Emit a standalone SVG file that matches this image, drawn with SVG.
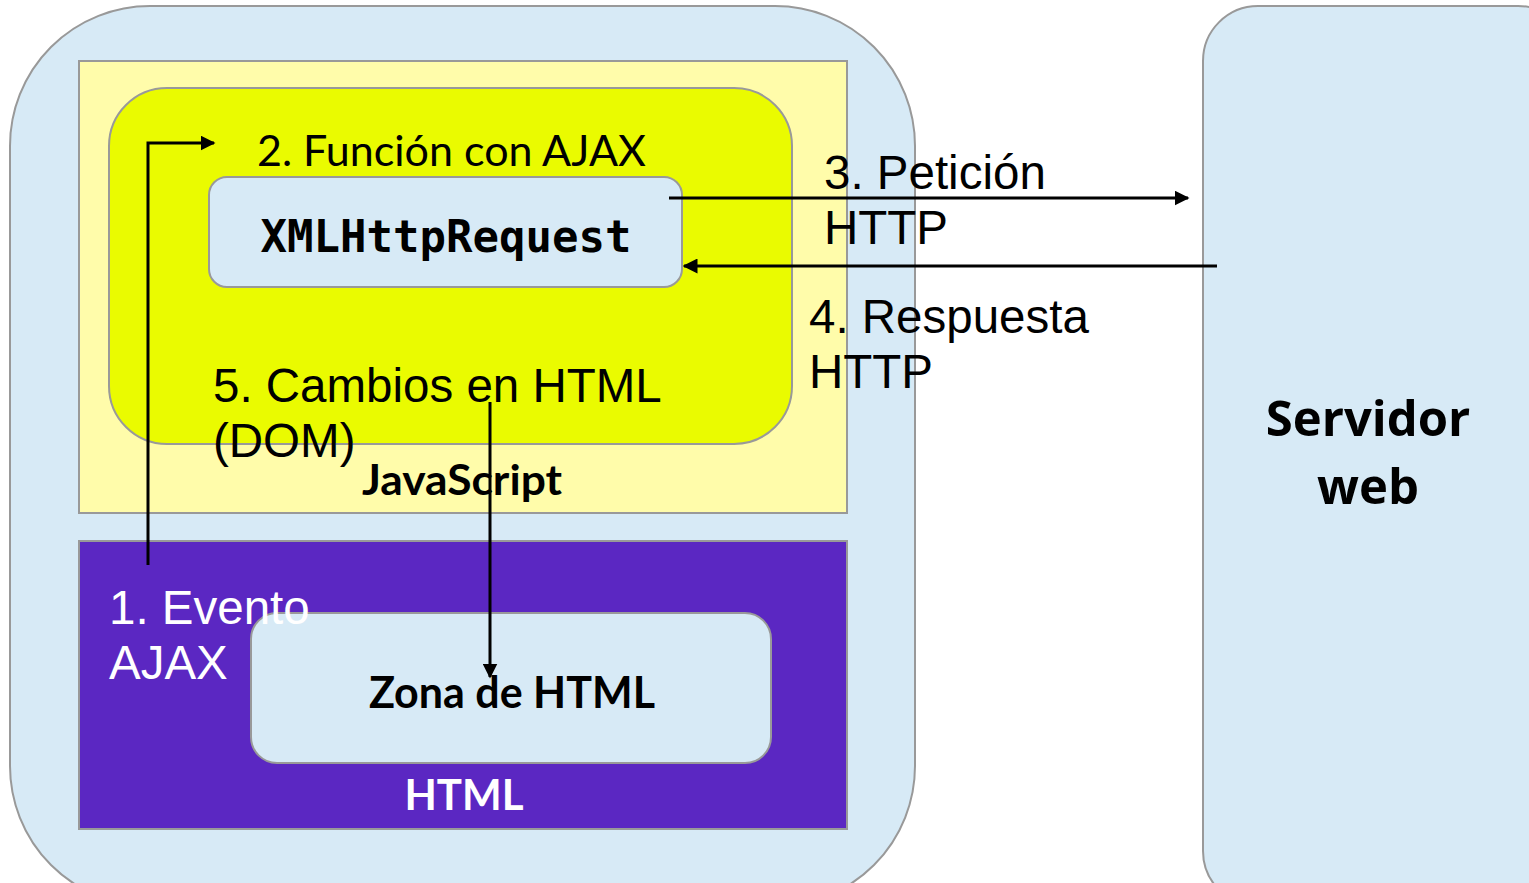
<svg xmlns="http://www.w3.org/2000/svg" width="1529" height="883" viewBox="0 0 1529 883">
<style>
.box{stroke:#999;stroke-width:2}
.blue{fill:#D7EAF6}
.arial{font-family:"Liberation Sans",Arial,sans-serif;font-size:47.5px}
.cal{font-family:Lato,"Open Sans",sans-serif;font-weight:bold}
.conn{stroke:#000;stroke-width:3;fill:none}
</style>
<defs>
<marker id="ah" viewBox="0 0 10 10" refX="9" refY="5" markerWidth="5" markerHeight="5" orient="auto" markerUnits="strokeWidth">
<path d="M0,0 L10,5 L0,10 Z" fill="#000"/>
</marker>
</defs>
<rect width="1529" height="883" fill="#fff"/>
<g id="browser">
<rect class="box blue" x="10" y="6" width="905" height="900" rx="140"/>
</g>
<g id="server">
<rect class="box blue" x="1203" y="6" width="370" height="900" rx="55"/>
<text class="cal" x="1368" y="436" text-anchor="middle" font-size="49" style="font-family:'Open Sans',sans-serif">Servidor</text>
<text class="cal" x="1368" y="504" text-anchor="middle" font-size="49" style="font-family:'Open Sans',sans-serif">web</text>
</g>
<g id="javascript">
<rect class="box" x="79" y="61" width="768" height="452" fill="#FFFCAA"/>
<text class="cal" x="362" y="495" font-size="42" textLength="200" lengthAdjust="spacingAndGlyphs">JavaScript</text>
</g>
<g id="funcion">
<rect class="box" x="109" y="88" width="683" height="356" rx="58" fill="#EAFB00"/>
<text x="257" y="166" font-family="Lato,'Open Sans',sans-serif" font-size="43">2. Función con AJAX</text>
</g>
<g id="xhr">
<rect class="box blue" x="209" y="177" width="473" height="110" rx="18"/>
<text x="446" y="252" text-anchor="middle" font-family="'DejaVu Sans Mono','Liberation Mono',monospace" font-weight="bold" font-size="44">XMLHttpRequest</text>
</g>
<g id="html">
<rect class="box" x="79" y="541" width="768" height="288" fill="#5B27C2"/>
<text class="cal" x="464" y="810" text-anchor="middle" font-size="42" fill="#fff">HTML</text>
</g>
<g id="zona">
<rect class="box blue" x="251" y="613" width="520" height="150" rx="26"/>
<text class="cal" x="512" y="708" text-anchor="middle" font-size="43">Zona de HTML</text>
</g>
<g id="labels">
<text class="arial" x="824" y="189">3. Petición</text>
<text class="arial" x="824" y="244">HTTP</text>
<text class="arial" x="809" y="333">4. Respuesta</text>
<text class="arial" x="809" y="388">HTTP</text>
<text class="arial" x="213" y="402">5. Cambios en HTML</text>
<text class="arial" x="213" y="457">(DOM)</text>
<text class="arial" x="109" y="624" fill="#fff">1. Evento</text>
<text class="arial" x="109" y="679" fill="#fff">AJAX</text>
</g>
<g id="connectors">
<polyline class="conn" points="148,565 148,143 214,143" marker-end="url(#ah)"/>
<line class="conn" x1="669" y1="198" x2="1188" y2="198" marker-end="url(#ah)"/>
<line class="conn" x1="1217" y1="266" x2="684" y2="266" marker-end="url(#ah)"/>
<line class="conn" x1="490" y1="402" x2="490" y2="677" marker-end="url(#ah)"/>
</g>
</svg>
